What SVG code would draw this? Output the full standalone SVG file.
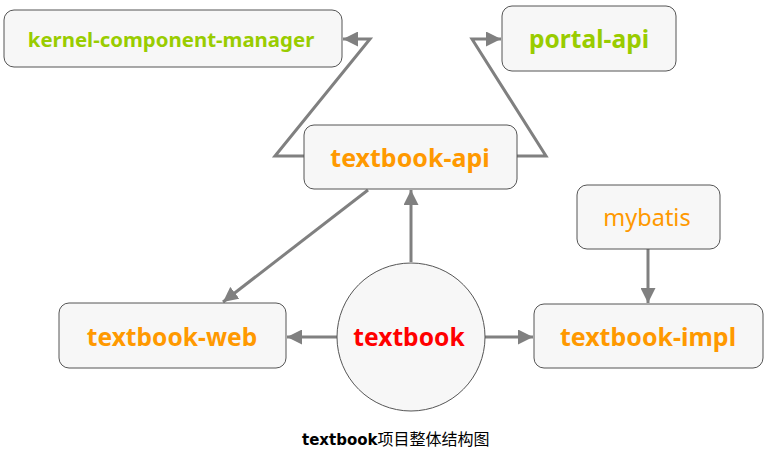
<svg xmlns="http://www.w3.org/2000/svg" width="771" height="473" viewBox="0 0 771 473">
<style>
.box{fill:#f7f7f7;stroke:#555;stroke-width:1}
.t{font-family:"Noto Sans","Open Sans","Liberation Sans",sans-serif;font-weight:bold;font-size:21px;text-anchor:middle;dominant-baseline:central}
.g{fill:#99cc00}.o{fill:#ff9900}.r{fill:#ff0000}
.c{fill:none;stroke:#808080;stroke-width:3;stroke-linejoin:miter}
</style>
<defs>
<marker id="ah" viewBox="0 0 10 10" refX="10" refY="5" markerWidth="15" markerHeight="15" markerUnits="userSpaceOnUse" orient="auto">
<path d="M0,0 L10,5 L0,10 Z" fill="#808080"/>
</marker>
</defs>
<rect width="771" height="473" fill="#fff"/>
<g id="connectors">
<path class="c" d="M304,156 L275,156 L370,39 L343,39" marker-end="url(#ah)"/>
<path class="c" d="M517,156 L546,156 L472,39 L501,39" marker-end="url(#ah)"/>
<path class="c" d="M411,262 L411,190" marker-end="url(#ah)"/>
<path class="c" d="M368,190 L223,302" marker-end="url(#ah)"/>
<path class="c" d="M337,337 L287,337" marker-end="url(#ah)"/>
<path class="c" d="M485,337 L533,337" marker-end="url(#ah)"/>
<path class="c" d="M648,249 L648,303" marker-end="url(#ah)"/>
</g>
<g id="kernel-component-manager">
<rect class="box" x="4" y="10" width="338" height="57" rx="10"/>
<text class="t g" x="171" y="39" style="font-size:20.4px">kernel-component-manager</text>
</g>
<g id="portal-api">
<rect class="box" x="502" y="6" width="174" height="65" rx="10"/>
<text class="t g" x="589" y="38" style="font-size:24.6px">portal-api</text>
</g>
<g id="textbook-api">
<rect class="box" x="304" y="125" width="213" height="64" rx="10"/>
<text class="t o" x="410" y="157" style="font-size:25px">textbook-api</text>
</g>
<g id="mybatis">
<rect class="box" x="577" y="185" width="143" height="64" rx="10"/>
<text class="t o" x="647" y="217" style="font-weight:normal;font-size:23.5px">mybatis</text>
</g>
<g id="textbook-web">
<rect class="box" x="59" y="303" width="227" height="65" rx="10"/>
<text class="t o" x="172" y="336" style="font-size:24.6px">textbook-web</text>
</g>
<g id="textbook-impl">
<rect class="box" x="534" y="304" width="229" height="64" rx="10"/>
<text class="t o" x="648" y="336" style="font-size:25px">textbook-impl</text>
</g>
<g id="textbook">
<circle class="box" cx="411" cy="337" r="74"/>
<text class="t r" x="409" y="336" style="font-size:24.6px">textbook</text>
</g>
<text x="302" y="445" font-size="15" font-family="'DejaVu Sans','Noto Sans CJK SC',sans-serif"><tspan font-weight="bold">textbook</tspan><tspan font-family="'Noto Sans CJK SC',sans-serif" font-size="16">项目整体结构图</tspan></text>
</svg>
